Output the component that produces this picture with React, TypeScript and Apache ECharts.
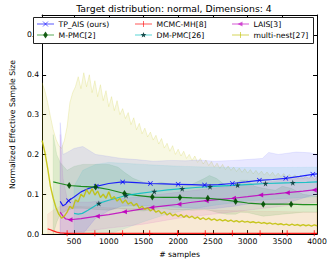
import React, { useEffect, useRef } from "react";
import * as echarts from "echarts";

const TITLE = "Target distribution: normal, Dimensions: 4";
const X_NAME = "# samples";
const Y_NAME = "Normalized Effective Sample Size";
const X_TICKS = [500, 1000, 1500, 2000, 2500, 3000, 3500, 4000];
const Y_TICKS = [0, 0.1, 0.2, 0.3, 0.4, 0.5];

// TP_AIS (ours)
const TP_X = [300, 340, 380, 420, 500, 600, 700, 820, 1000, 1200, 1400, 1600, 1800, 2000, 2200, 2380, 2580, 2780, 2980, 3170, 3360, 3550, 3750, 3940, 4000];
const TP_Y = [0.082, 0.071, 0.075, 0.084, 0.093, 0.106, 0.114, 0.12, 0.127, 0.131, 0.129, 0.127, 0.126, 0.125, 0.124, 0.123, 0.124, 0.127, 0.131, 0.135, 0.137, 0.14, 0.145, 0.15, 0.151];
const TP_MARKS = [420, 820, 1200, 1600, 2000, 2380, 2780, 3170, 3550, 3940];
const TP_BX = [300, 320, 340, 400, 500, 626, 811, 1000, 1180, 1400, 1642, 1900, 2104, 2300, 2519, 2800, 2980, 3212, 3304, 3443, 3700, 3904, 4000];
const TP_HI = [0.28, 0.24, 0.2, 0.205, 0.215, 0.22, 0.2, 0.195, 0.19, 0.187, 0.183, 0.185, 0.184, 0.186, 0.183, 0.185, 0.187, 0.19, 0.205, 0.2, 0.206, 0.204, 0.2];
const TP_LO = [0, 0, 0, 0, 0, 0, 0.04, 0.059, 0.07, 0.071, 0.07, 0.068, 0.066, 0.064, 0.064, 0.07, 0.075, 0.078, 0.074, 0.074, 0.085, 0.096, 0.1];

// MCMC-MH[8]
const MH_X = [120, 160, 200, 250, 300, 400, 800, 1200, 1590, 1990, 2390, 2780, 3180, 3570, 3960, 4000];
const MH_Y = [0.013, 0.011, 0.008, 0.005, 0.003, 0.002, 0.002, 0.002, 0.002, 0.002, 0.002, 0.002, 0.002, 0.002, 0.002, 0.002];
const MH_MARKS = [400, 800, 1200, 1590, 1990, 2390, 2780, 3180, 3570, 3960];
const MH_BX = [120, 200, 300, 500, 1000, 2000, 3000, 4000];
const MH_HI = [0.05, 0.06, 0.07, 0.07, 0.066, 0.062, 0.058, 0.055];
const MH_LO = [0, 0, 0, 0, 0, 0, 0, 0];

// LAIS[3]
const LA_X = [300, 340, 380, 442, 600, 835, 1000, 1226, 1400, 1620, 1800, 2011, 2200, 2404, 2600, 2796, 3000, 3189, 3400, 3572, 3800, 3960, 4000];
const LA_Y = [0.055, 0.045, 0.038, 0.036, 0.039, 0.045, 0.049, 0.056, 0.061, 0.067, 0.071, 0.075, 0.08, 0.084, 0.087, 0.09, 0.094, 0.098, 0.101, 0.104, 0.108, 0.111, 0.112];
const LA_MARKS = [442, 835, 1226, 1620, 2011, 2404, 2796, 3189, 3572, 3960];
const LA_BX = [300, 340, 400, 500, 700, 1000, 1500, 2000, 2500, 3000, 3500, 4000];
const LA_HI = [0.25, 0.14, 0.09, 0.08, 0.08, 0.085, 0.095, 0.105, 0.115, 0.125, 0.135, 0.145];
const LA_LO = [0, 0, 0, 0.005, 0.008, 0.015, 0.025, 0.04, 0.05, 0.06, 0.07, 0.08];

// M-PMC[2]
const MP_X = [200, 300, 430, 600, 811, 1000, 1226, 1400, 1628, 1800, 2025, 2200, 2427, 2600, 2828, 3000, 3226, 3400, 3627, 3800, 4000];
const MP_Y = [0.131, 0.127, 0.122, 0.12, 0.118, 0.112, 0.102, 0.097, 0.093, 0.092, 0.092, 0.091, 0.09, 0.087, 0.082, 0.078, 0.075, 0.075, 0.075, 0.074, 0.074];
const MP_MARKS = [430, 811, 1226, 1628, 2025, 2427, 2828, 3226, 3627];
const MP_BX = [200, 250, 300, 400, 500, 626, 811, 1000, 1134, 1226, 1350, 1500, 1628, 1750, 1900, 2025, 2200, 2380, 2450, 2550, 2700, 2828, 2900, 3000, 3100, 3226, 3400, 3500, 3627, 3800, 4000];
const MP_HI = [0.25, 0.2, 0.18, 0.16, 0.17, 0.175, 0.175, 0.175, 0.168, 0.155, 0.14, 0.13, 0.125, 0.13, 0.125, 0.12, 0.125, 0.14, 0.147, 0.14, 0.12, 0.125, 0.135, 0.135, 0.12, 0.115, 0.11, 0.12, 0.115, 0.1, 0.095];
const MP_LO = [0, 0.03, 0.05, 0.06, 0.065, 0.065, 0.062, 0.06, 0.065, 0.063, 0.06, 0.058, 0.062, 0.065, 0.062, 0.062, 0.06, 0.062, 0.06, 0.055, 0.05, 0.05, 0.055, 0.054, 0.05, 0.045, 0.048, 0.05, 0.052, 0.055, 0.055];

// DM-PMC[26]
const DM_X = [500, 560, 620, 700, 857, 1000, 1249, 1450, 1656, 1850, 2058, 2250, 2459, 2650, 2856, 3050, 3258, 3450, 3651, 3850, 4000];
const DM_Y = [0.052, 0.05, 0.052, 0.06, 0.077, 0.085, 0.097, 0.102, 0.107, 0.111, 0.114, 0.117, 0.119, 0.121, 0.123, 0.125, 0.127, 0.128, 0.129, 0.13, 0.131];
const DM_MARKS = [857, 1249, 1656, 2058, 2459, 2856, 3258, 3651];
const DM_BX = [500, 626, 811, 1000, 1200, 1500, 1800, 2100, 2500, 3000, 3500, 4000];
const DM_HI = [0.12, 0.16, 0.175, 0.18, 0.178, 0.175, 0.172, 0.17, 0.168, 0.167, 0.167, 0.168];
const DM_LO = [0, 0, 0, 0, 0.012, 0.031, 0.048, 0.06, 0.072, 0.083, 0.089, 0.094];

// multi-nest[27]: samples 40, 80, ..., 4000
const MN_START = 40;
const MN_STEP = 40;
const MN_Y = [
  0.235, 0.205, 0.165, 0.12, 0.09, 0.066, 0.05, 0.04, 0.045, 0.055,
  0.07, 0.064, 0.086, 0.081, 0.1, 0.093, 0.112, 0.1, 0.114, 0.098,
  0.108, 0.092, 0.1, 0.09, 0.106, 0.088, 0.094, 0.083, 0.09, 0.078,
  0.086, 0.075, 0.08, 0.071, 0.077, 0.065, 0.07, 0.062, 0.066, 0.058,
  0.063, 0.055, 0.059, 0.051, 0.056, 0.048, 0.053, 0.046, 0.05, 0.044,
  0.049, 0.042, 0.047, 0.041, 0.045, 0.039, 0.043, 0.037, 0.041, 0.036,
  0.04, 0.035, 0.038, 0.034, 0.037, 0.033, 0.036, 0.032, 0.035, 0.031,
  0.034, 0.03, 0.033, 0.03, 0.032, 0.029, 0.031, 0.028, 0.03, 0.027,
  0.029, 0.026, 0.028, 0.025, 0.027, 0.024, 0.026, 0.023, 0.025, 0.022,
  0.025, 0.022, 0.024, 0.021, 0.024, 0.021, 0.023, 0.02, 0.023, 0.021,
];
const MN_HI = [
  0.38, 0.36, 0.33, 0.295, 0.262, 0.238, 0.222, 0.215, 0.235, 0.27,
  0.33, 0.355, 0.37, 0.395, 0.365, 0.405, 0.37, 0.4, 0.355, 0.385,
  0.345, 0.375, 0.335, 0.36, 0.32, 0.345, 0.31, 0.335, 0.3, 0.315,
  0.29, 0.305, 0.275, 0.292, 0.262, 0.278, 0.252, 0.266, 0.244, 0.256,
  0.236, 0.248, 0.226, 0.24, 0.216, 0.228, 0.208, 0.222, 0.2, 0.213,
  0.196, 0.208, 0.19, 0.2, 0.185, 0.196, 0.18, 0.19, 0.176, 0.186,
  0.172, 0.182, 0.168, 0.178, 0.165, 0.175, 0.162, 0.171, 0.16, 0.168,
  0.157, 0.166, 0.155, 0.164, 0.153, 0.162, 0.151, 0.16, 0.15, 0.158,
  0.148, 0.156, 0.147, 0.155, 0.145, 0.153, 0.144, 0.152, 0.142, 0.15,
  0.141, 0.149, 0.14, 0.147, 0.139, 0.146, 0.138, 0.145, 0.137, 0.143,
];
const MN_X = MN_Y.map((_, i) => MN_START + MN_STEP * i);
const MN_LO = MN_Y.map(() => 0);

const COL = { b: "#0000ff", g: "#008000", r: "#ff0000", c: "#00bfbf", m: "#bf00bf", y: "#bfbf00" };
const FONT = "DejaVu Sans";

const SYM_X = "path://M0,1L1,0L5,4L9,0L10,1L6,5L10,9L9,10L5,6L1,10L0,9L4,5Z";
const SYM_PLUS = "path://M4.3,0H5.7V4.3H10V5.7H5.7V10H4.3V5.7H0V4.3H4.3Z";
const SYM_LEFT = "path://M0,5L10,0L10,10Z";
const SYM_STAR = "path://M50,0L61,35L98,35L68,57L79,91L50,70L21,91L32,57L2,35L39,35Z";

function band(name: string, xs: number[], lo: number[], hi: number[], color: string, opacity: number, strokeOpacity = 0.3) {
  return {
    type: "custom",
    name: name + " band",
    silent: true,
    clip: true,
    z: 1,
    data: xs.map((x, i) => [x, lo[i], hi[i]]),
    encode: { x: 0, y: [1, 2] },
    renderItem: (params: any, api: any) => {
      if (params.dataIndex !== 0) return null;
      const pts: number[][] = [];
      for (let i = 0; i < xs.length; i++) pts.push(api.coord([xs[i], hi[i]]));
      for (let i = xs.length - 1; i >= 0; i--) pts.push(api.coord([xs[i], lo[i]]));
      return {
        type: "polygon",
        shape: { points: pts },
        style: { fill: color, fillOpacity: opacity, stroke: color, lineWidth: 0.5, strokeOpacity },
      };
    },
  };
}

function line(name: string, xs: number[], ys: number[], marks: number[], color: string, markColor: string, symbol: string, size: any, width = 1.2) {
  return {
    type: "line",
    name,
    z: 3,
    silent: true,
    data: xs.map((x, i) => [x, ys[i]]),
    showSymbol: marks.length > 0,
    showAllSymbol: true,
    symbol: marks.length > 0 ? symbol : "none",
    symbolSize: (v: number[]) => (marks.includes(v[0]) ? size : 0),
    lineStyle: { color, width, opacity: 0.85 },
    itemStyle: { color: markColor, opacity: 0.9 },
  };
}

type LegItem = { name: string; color: string; mark: string; col: number; row: number };
const LEGEND: LegItem[] = [
  { name: "TP_AIS (ours)", color: COL.b, mark: "x", col: 0, row: 0 },
  { name: "MCMC-MH[8]", color: COL.r, mark: "+", col: 1, row: 0 },
  { name: "LAIS[3]", color: COL.m, mark: "<", col: 2, row: 0 },
  { name: "M-PMC[2]", color: COL.g, mark: "d", col: 0, row: 1 },
  { name: "DM-PMC[26]", color: COL.c, mark: "*", col: 1, row: 1 },
  { name: "multi-nest[27]", color: COL.y, mark: "+", col: 2, row: 1 },
];
const LEG_COL_X = [37, 135, 232];
const LEG_ROW_Y = [24, 35];

function legendGraphics() {
  const els: any[] = [
    { type: "rect", z: 100, shape: { x: 33.5, y: 17.5, width: 280, height: 26 }, style: { fill: "#fff", stroke: "#222", lineWidth: 1 } },
  ];
  LEGEND.forEach((it) => {
    const x0 = LEG_COL_X[it.col];
    const y = LEG_ROW_Y[it.row];
    const cx = x0 + 8.5;
    els.push({ type: "line", z: 101, shape: { x1: x0, y1: y, x2: x0 + 17, y2: y }, style: { stroke: it.color, lineWidth: 1.2, opacity: 0.55 } });
    const ms = { stroke: it.color, lineWidth: 1, opacity: 0.6 };
    if (it.mark === "x") {
      els.push({ type: "line", z: 102, shape: { x1: cx - 2.5, y1: y - 2.5, x2: cx + 2.5, y2: y + 2.5 }, style: ms });
      els.push({ type: "line", z: 102, shape: { x1: cx - 2.5, y1: y + 2.5, x2: cx + 2.5, y2: y - 2.5 }, style: ms });
    } else if (it.mark === "+") {
      els.push({ type: "line", z: 102, shape: { x1: cx, y1: y - 3, x2: cx, y2: y + 3 }, style: ms });
    } else if (it.mark === "<") {
      els.push({ type: "polygon", z: 102, shape: { points: [[cx - 3, y], [cx + 2, y - 2.5], [cx + 2, y + 2.5]] }, style: { fill: it.color, opacity: 0.6 } });
    } else if (it.mark === "d") {
      els.push({ type: "polygon", z: 102, shape: { points: [[cx, y - 3.5], [cx + 2.3, y], [cx, y + 3.5], [cx - 2.3, y]] }, style: { fill: "#004d00", opacity: 0.9 } });
    } else if (it.mark === "*") {
      const pts: number[][] = [];
      for (let k = 0; k < 10; k++) {
        const r = k % 2 === 0 ? 3 : 1.3;
        const a = -Math.PI / 2 + (k * Math.PI) / 5;
        pts.push([cx + r * Math.cos(a), y + r * Math.sin(a)]);
      }
      els.push({ type: "polygon", z: 102, shape: { points: pts }, style: { fill: "#0a3a3a", opacity: 0.9 } });
    }
    els.push({
      type: "text",
      z: 102,
      x: x0 + 21.5,
      y,
      style: { text: it.name, fontFamily: FONT, fontSize: 7.7, fill: "#000", verticalAlign: "middle", align: "left" },
    });
  });
  return els;
}

export default function App() {
  const ref = useRef<HTMLDivElement>(null);
  useEffect(() => {
    if (!ref.current) return;
    const chart = echarts.init(ref.current, undefined, { renderer: "svg" });
    const tickCommon = { inside: true, length: 4, lineStyle: { color: "#000", width: 1 } };
    const option: any = {
      animation: false,
      backgroundColor: "#fff",
      grid: { left: 31, right: 15, top: 15, bottom: 26, containLabel: false },
      xAxis: [
        {
          type: "value", min: 40, max: 4000,
          name: X_NAME, nameLocation: "middle", nameGap: 12,
          nameTextStyle: { fontFamily: FONT, fontSize: 7.7, color: "#000" },
          axisLine: { show: true, lineStyle: { color: "#000", width: 1 } },
          axisTick: { ...tickCommon, customValues: X_TICKS },
          axisLabel: { customValues: X_TICKS, formatter: (v: number) => String(Math.round(v)), fontFamily: FONT, fontSize: 7.7, color: "#000", margin: 3 },
          splitLine: { show: false },
        },
        {
          type: "value", min: 40, max: 4000, position: "top",
          axisLine: { show: true, onZero: false, lineStyle: { color: "#000", width: 1 } },
          axisTick: { ...tickCommon, customValues: X_TICKS },
          axisLabel: { show: false },
          splitLine: { show: false },
        },
      ],
      yAxis: [
        {
          type: "value", min: 0, max: 0.55,
          name: Y_NAME, nameLocation: "middle", nameGap: 19, nameRotate: 90,
          nameTextStyle: { fontFamily: FONT, fontSize: 7.7, color: "#000" },
          axisLine: { show: true, lineStyle: { color: "#000", width: 1 } },
          axisTick: { ...tickCommon, customValues: Y_TICKS },
          axisLabel: { customValues: Y_TICKS, formatter: (v: number) => v.toFixed(1), fontFamily: FONT, fontSize: 7.7, color: "#000", margin: 3 },
          splitLine: { show: false },
        },
        {
          type: "value", min: 0, max: 0.55, position: "right",
          axisLine: { show: true, onZero: false, lineStyle: { color: "#000", width: 1 } },
          axisTick: { ...tickCommon, customValues: Y_TICKS },
          axisLabel: { show: false },
          splitLine: { show: false },
        },
      ],
      series: [
        band("multi-nest[27]", MN_X, MN_LO, MN_HI, COL.y, 0.11, 0.35),
        band("MCMC-MH[8]", MH_BX, MH_LO, MH_HI, COL.r, 0.06, 0.1),
        band("M-PMC[2]", MP_BX, MP_LO, MP_HI, COL.g, 0.1, 0.15),
        band("DM-PMC[26]", DM_BX, DM_LO, DM_HI, COL.c, 0.1, 0.15),
        band("LAIS[3]", LA_BX, LA_LO, LA_HI, COL.m, 0.08, 0.15),
        band("TP_AIS (ours)", TP_BX, TP_LO, TP_HI, COL.b, 0.09, 0.15),
        line("TP_AIS (ours)", TP_X, TP_Y, TP_MARKS, COL.b, COL.b, SYM_X, 5),
        line("MCMC-MH[8]", MH_X, MH_Y, MH_MARKS, COL.r, COL.r, SYM_PLUS, 6),
        line("LAIS[3]", LA_X, LA_Y, LA_MARKS, COL.m, COL.m, SYM_LEFT, 5),
        line("M-PMC[2]", MP_X, MP_Y, MP_MARKS, COL.g, "#004d00", "diamond", [4.5, 7]),
        line("DM-PMC[26]", DM_X, DM_Y, DM_MARKS, COL.c, "#0a3a3a", SYM_STAR, 6),
        line("multi-nest[27]", MN_X, MN_Y, [], COL.y, COL.y, "none", 0, 1.4),
      ],
      graphic: [
        {
          type: "text", z: 100, x: 174, y: 8,
          style: { text: TITLE, fontFamily: FONT, fontSize: 9.3, fill: "#000", align: "center", verticalAlign: "middle" },
        },
        ...legendGraphics(),
      ],
    };
    chart.setOption(option);
    return () => chart.dispose();
  }, []);
  return <div ref={ref} style={{ position: "fixed", left: 0, top: 0, width: 332, height: 263 }} />;
}
